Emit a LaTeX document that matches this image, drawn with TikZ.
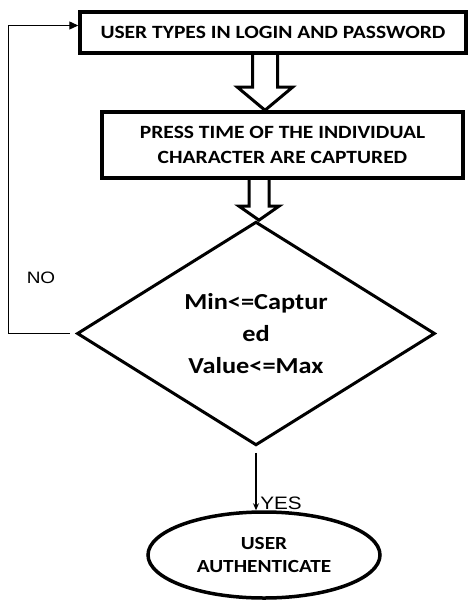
\documentclass[tikz,border=0pt]{standalone}
\usepackage{fontspec}
\setmainfont[FakeStretch=1.15]{Carlito}
\newfontfamily\labelfont[FakeStretch=1.15]{Liberation Sans}
\usetikzlibrary{calc,shapes.geometric,arrows.meta}

% block arrow between two points: shaft half width, head half width, head length
\newcommand{\hollowarrow}[5]{%
  \draw[hollowarr] let \p1=(#1), \p2=(#2) in
    (\x1-#3pt,\y1) -- (\x1-#3pt,\y2+#5pt) -- (\x1-#4pt,\y2+#5pt) -- (\x2,\y2)
    -- (\x1+#4pt,\y2+#5pt) -- (\x1+#3pt,\y2+#5pt) -- (\x1+#3pt,\y1);
}

\begin{document}
\begin{tikzpicture}[x=1pt, y=-1pt,
  stepbox/.style={draw, line width=3.5pt, inner sep=0pt, align=center, font=\bfseries\fontsize{18.7}{25}\selectfont},
  checkbox/.style={draw, diamond, line width=3pt, inner sep=0pt, align=center, font=\bfseries\fontsize{22.9}{32}\selectfont},
  endbox/.style={draw, ellipse, line width=3.5pt, inner sep=0pt, align=center, font=\bfseries\fontsize{18.5}{23}\selectfont},
  hollowarr/.style={line width=3pt, line join=miter},
  thinarr/.style={line width=1.3pt, -{Stealth[length=7pt,width=6pt]}},
  answer/.style={font=\labelfont\fontsize{#1}{#1}\selectfont, inner sep=0pt}
]
  \useasboundingbox (0,0) rectangle (469,604);

  \node[stepbox, minimum width=386pt, minimum height=41pt] (login) at (273,32.5) {USER TYPES IN LOGIN AND PASSWORD};
  \node[stepbox, minimum width=361pt, minimum height=66pt] (press) at (282.5,145) {PRESS TIME OF THE INDIVIDUAL\\CHARACTER ARE CAPTURED};
  \node[checkbox, minimum width=358pt, minimum height=207pt] (check) at (256,333.5) {Min<=Captur\\ed\\Value<=Max};
  \node[endbox, minimum width=232pt, minimum height=86pt] (auth) at (264,555) {USER\\AUTHENTICATE};

  % block arrows
  \coordinate (a1s) at (265,0 |- login.south);
  \coordinate (a1e) at (265,0 |- press.north);
  \hollowarrow{a1s}{a1e}{12.5}{27.5}{23}
  \coordinate (a2s) at (259,0 |- press.south);
  \coordinate (a2e) at (259,0 |- check.north);
  \hollowarrow{a2s}{a2e}{10}{20}{14}

  % no -> back to the start
  \draw[line width=1.3pt, shorten <=6pt, -{Triangle[length=9pt,width=8pt]}]
    (check.west) -- ++(-67,0) |- ($(login.west)+(0,-7)$);
  \node[answer=16.5] (no) at (41,278) {NO};

  % yes
  \draw[thinarr, shorten <=6pt] (check.south) -- (check.south |- auth.north);
  \node[answer=18] (yes) at (281,503.5) {YES};
\end{tikzpicture}
\end{document}
